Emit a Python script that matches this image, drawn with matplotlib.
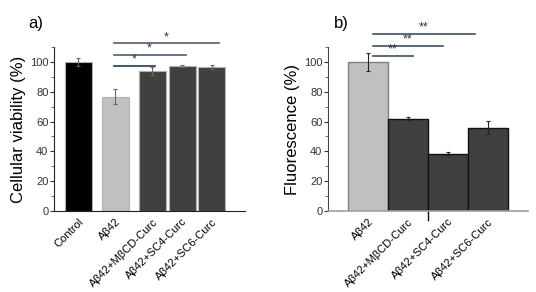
import numpy as np
import matplotlib
matplotlib.use("Agg")
import matplotlib.pyplot as plt
from matplotlib.ticker import MultipleLocator

plt.rcParams["font.family"] = ["Liberation Sans", "DejaVu Sans"]

# panel a: cellular viability
a_labels = ["Control", "Aβ42", "Aβ42+MβCD-Curc", "Aβ42+SC4-Curc", "Aβ42+SC6-Curc"]
a_values = [100, 76.5, 94, 97.5, 96.5]
a_errors = [2.8, 5, 2.5, 0.6, 1.5]
a_colors = ["#000000", "#c0c0c0", "#404040", "#404040", "#404040"]
a_pos = [0, 1, 2, 2.8, 3.6]
# significance brackets: (from, to, level, label)
a_sig = [(0.95, 2.08, 97.5, "*"), (0.95, 2.9, 104.7, "*"), (0.95, 3.8, 112.5, "*")]

# panel b: fluorescence
b_labels = ["Aβ42", "Aβ42+MβCD-Curc", "Aβ42+SC4-Curc", "Aβ42+SC6-Curc"]
b_values = [100, 62, 38.5, 56]
b_errors = [6, 0.8, 1, 4.5]
b_colors = ["#c0c0c0", "#404040", "#404040", "#404040"]
b_sig = [(0.12, 1.12, 104.3, "**"), (0.12, 1.87, 111, "**"), (0.12, 2.68, 118.6, "**")]

fig = plt.figure(figsize=(5.36, 2.92), dpi=100)
axa = fig.add_axes([0.1007, 0.2774, 0.3563, 0.5616])
axb = fig.add_axes([0.612, 0.2774, 0.373, 0.5616])


def style(ax, spine_col):
    ax.set_ylim(0, 110)
    ax.yaxis.set_major_locator(MultipleLocator(20))
    ax.yaxis.set_minor_locator(MultipleLocator(10))
    ax.set_yticks([0, 20, 40, 60, 80, 100])
    for s in ("top", "right"):
        ax.spines[s].set_visible(False)
    ax.spines["left"].set_bounds(0, 110)
    ax.spines["left"].set_color(spine_col)
    ax.tick_params(axis="y", which="major", length=3, width=0.8, labelsize=8,
                   colors="#333333", pad=1)
    ax.tick_params(axis="y", which="minor", length=2, width=0.6, colors="#555555")
    ax.tick_params(axis="x", length=0, labelsize=8, pad=4)


def sig(ax, items, col):
    for x0, x1, y, txt in items:
        ax.plot([x0, x1], [y, y], color=col, lw=1.2, clip_on=False)
        ax.text((x0 + x1) / 2, y + 0.2, txt, ha="center", va="bottom",
                fontsize=9, color="#333333", clip_on=False)


# ---- panel a ----
axa.bar(a_pos, a_values, width=0.73, color=a_colors, edgecolor="#b0b0b0",
        linewidth=0.8, zorder=2)
axa.errorbar(a_pos, a_values, yerr=a_errors, fmt="none", ecolor="#666666",
             elinewidth=0.8, capsize=1.5, capthick=0.8, zorder=3)
axa.set_xlim(-0.66, 4.5)
style(axa, "#222222")
axa.spines["bottom"].set_color("#222222")
axa.set_xticks(a_pos)
axa.set_xticklabels(a_labels, rotation=45, ha="right", rotation_mode="anchor")
axa.set_ylabel("Cellular viability (%)", fontsize=12, labelpad=3)
sig(axa, a_sig[:1], "#1f3a5f")
sig(axa, a_sig[1:], "#4a5e78")
fig.text(0.052, 0.905, "a)", fontsize=12)

# ---- panel b ----
b_pos = np.arange(len(b_values))
axb.bar(b_pos, b_values, width=1.0, color=b_colors,
        edgecolor=["#808080", "#111111", "#111111", "#111111"],
        linewidth=1.0, zorder=2)
axb.errorbar(b_pos, b_values, yerr=b_errors, fmt="none", ecolor="#222222",
             elinewidth=0.8, capsize=1.5, capthick=0.8, zorder=3)
axb.set_xlim(-1.0, 4.0)
style(axb, "#444444")
axb.spines["bottom"].set_color("#a0a0a0")
axb.spines["bottom"].set_linewidth(1.2)
axb.set_xticks(b_pos)
axb.set_xticklabels(b_labels, rotation=45, ha="right", rotation_mode="anchor")
axb.plot([1.5, 1.5], [0, -6], color="#111111", lw=1.0, clip_on=False)
axb.set_ylabel("Fluorescence (%)", fontsize=12, labelpad=3)
sig(axb, b_sig, "#3a5270")
fig.text(0.623, 0.905, "b)", fontsize=12)

fig.savefig("out.png", dpi=100)
